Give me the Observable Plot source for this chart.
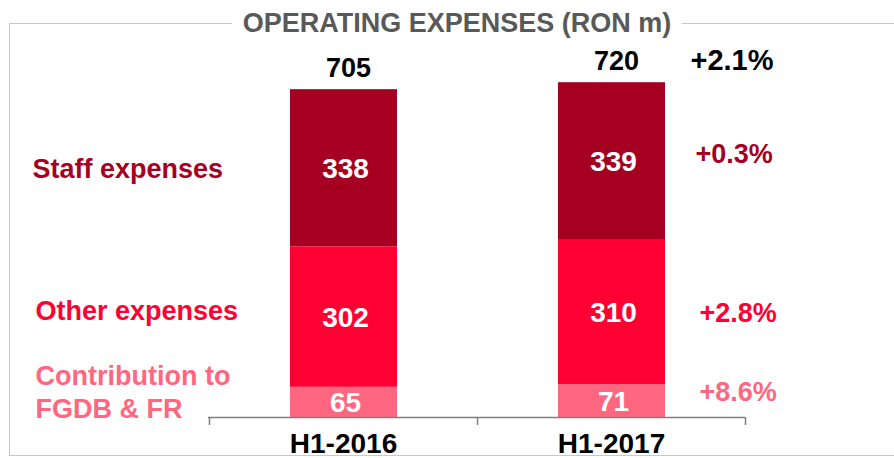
<!DOCTYPE html>
<html>
<head>
<meta charset="utf-8">
<script src="https://cdn.jsdelivr.net/npm/d3@7"></script>
<script src="https://cdn.jsdelivr.net/npm/@observablehq/plot@0.6"></script>
<style>
  html, body { margin: 0; padding: 0; background: #fff; overflow: hidden; }
  #wrap { position: relative; width: 894px; height: 458px; font-family: "Liberation Sans", Arial, sans-serif; }
  #box { position: absolute; left: 9px; top: 23px; width: 900px; height: 433px; border: 1.5px solid #c8c8c8; box-sizing: border-box; }
  #chart { position: absolute; left: 0; top: 0; }
  #chart svg { display: block; }
  #title { position: absolute; left: 0; top: 10px; width: 914px; text-align: center; line-height: 27px; }
  #title span { background: #fff; padding: 0 11px; font-size: 27px; font-weight: bold; color: #595959; }
</style>
</head>
<body>
<div id="wrap">
  <div id="box"></div>
  <div id="chart"></div>
  <div id="title"><span>OPERATING EXPENSES (RON m)</span></div>
</div>
<script>
const periods = ["H1-2016", "H1-2017"];
const series = ["Contribution to FGDB & FR", "Other expenses", "Staff expenses"];
const seriesLabels = ["Contribution to\nFGDB & FR", "Other expenses", "Staff expenses"];
const values2016 = [65, 302, 338];
const values2017 = [71, 310, 339];
const totals = [705, 720];
const changes = ["+8.6%", "+2.8%", "+0.3%"];
const totalChange = "+2.1%";
const colors = ["#FF6680", "#FF0033", "#A50021"];

// label nudges (pixels), per series, bottom to top
const leftLabelDx = [-173, -173, -176];
const leftLabelDy = [-11, -8, -1];
const rightLabelDx = [-46, -46, -50];
const rightLabelDy = [-9, 1, -7];

const rows = [];
[values2016, values2017].forEach((vals, p) => {
  vals.forEach((v, i) => rows.push({period: periods[p], series: series[i], label: seriesLabels[i], change: changes[i], value: v}));
});
const rows2016 = rows.filter(d => d.period === periods[0]);
const rows2017 = rows.filter(d => d.period === periods[1]);
const totalRows = periods.map((p, i) => ({period: p, total: totals[i]}));

const bold = {fontWeight: "bold"};
const axisGray = "#7f7f7f";

const leftLabels = series.map((s, i) =>
  Plot.text(rows2016, Plot.filter(d => d.series === s, Plot.stackY({y: "value", z: "series", text: "label", fill: "series",
    frameAnchor: "left", textAnchor: "start",
    dx: leftLabelDx[i], dy: leftLabelDy[i], fontSize: 27, lineHeight: 1.22, ...bold}))));
const rightLabels = series.map((s, i) =>
  Plot.text(rows2017, Plot.filter(d => d.series === s, Plot.stackY({y: "value", z: "series", text: "change", fill: "series",
    frameAnchor: "right", textAnchor: "start",
    dx: rightLabelDx[i], dy: rightLabelDy[i], fontSize: 27, ...bold}))));

const chart = Plot.plot({
  width: 894,
  height: 458,
  marginLeft: 208,
  marginRight: 149,
  marginTop: 45,
  marginBottom: 41,
  x: {domain: periods, padding: 0, axis: null},
  y: {domain: [0, 800], axis: null},
  color: {domain: series, range: colors},
  style: {fontFamily: "'Liberation Sans', Arial, sans-serif", background: "transparent", overflow: "visible"},
  marks: [
    Plot.barY(rows, {x: "period", y: "value", fill: "series", insetLeft: 81, insetRight: 80}),
    Plot.ruleY([0], {stroke: axisGray, strokeWidth: 1.5}),
    Plot.ruleX(periods, {x: d => d, dx: -134, y1: 0, y2: 0, insetBottom: -8, stroke: axisGray, strokeWidth: 1.5}),
    Plot.ruleX(periods.slice(-1), {x: d => d, dx: 134, y1: 0, y2: 0, insetBottom: -8, stroke: axisGray, strokeWidth: 1.5}),
    Plot.text(rows, Plot.stackY({x: "period", y: "value", z: "series", text: d => String(d.value), fill: "white", fontSize: 28, ...bold, dx: 2, dy: 1})),
    Plot.text(totalRows, {x: "period", y: "total", text: d => String(d.total), lineAnchor: "bottom", dy: -13, dx: 5, fontSize: 27, ...bold, fill: "black"}),
    ...leftLabels,
    ...rightLabels,
    Plot.text([totalChange], {y: () => totals[1], text: d => d, frameAnchor: "right", textAnchor: "start", lineAnchor: "bottom", dx: -55, dy: -13, fontSize: 29, ...bold, fill: "black"}),
    Plot.text(periods, {x: d => d, frameAnchor: "bottom", lineAnchor: "bottom", dy: 35, text: d => d, fontSize: 28, ...bold, fill: "black"})
  ]
});
document.getElementById("chart").appendChild(chart);
</script>
</body>
</html>
